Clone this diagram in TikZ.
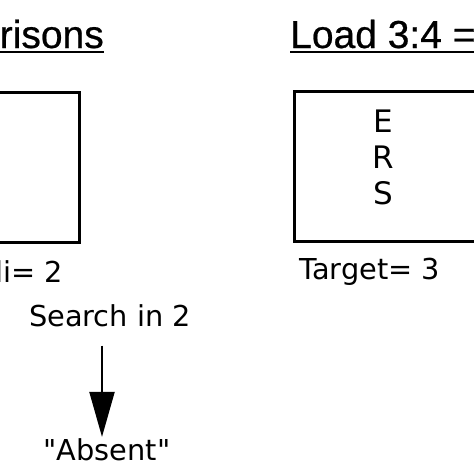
\documentclass[tikz,border=0pt]{standalone}
\usepackage{fontspec}
\newfontfamily\bodyfont{DejaVu Sans}
\newfontfamily\titlefont[FakeBold=0.6]{Liberation Sans}
\usetikzlibrary{arrows.meta}
\begin{document}
\begin{tikzpicture}[x=1pt,y=-1pt,
  titletext/.style={font=\titlefont\fontsize{39}{44}\selectfont, inner sep=0pt, anchor=base west},
  bodytext/.style={font=\bodyfont\fontsize{28.8}{32}\selectfont, inner sep=0pt, anchor=base},
  lettertext/.style={font=\bodyfont\fontsize{31}{34}\selectfont, inner sep=0pt, anchor=base},
  boxline/.style={line width=3pt},
  uline/.style={line width=2pt},
  flowarrow/.style={line width=2pt, -{Triangle[width=25pt,length=45pt]}}]
\useasboundingbox (0,0) rectangle (474,474);
\clip (0,0) rectangle (474,474);
% titles
\node[titletext, anchor=base east] (t1) at (104,48) {Comparisons};
\draw[uline] (-200,51.5) -- (104,51.5);
\node[titletext] (t2) at (290,48) {Load 3:4 = 0.75};
\draw[uline] (290,51.5) -- (700,51.5);
% boxes
\draw[boxline] (-20,92) rectangle (79,242);
\draw[boxline] (294,91) rectangle (520,241);
% letters
\node[lettertext] (e) at (383,132) {E};
\node[lettertext] (r) at (383,168) {R};
\node[lettertext] (s) at (383,204) {S};
% labels
\node[bodytext, anchor=base east] (li) at (63,282) {li= 2};
\node[bodytext, anchor=base west] (target) at (299,279) {Target= 3};
\node[bodytext] (search) at (110,326) {Search in 2};
\node[bodytext] (absent) at (107,460) {"Absent"};
\draw[flowarrow, shorten <=19pt, shorten >=1pt] (search.south -| 102,0) -- (absent.north -| 102,0);
\end{tikzpicture}
\end{document}
